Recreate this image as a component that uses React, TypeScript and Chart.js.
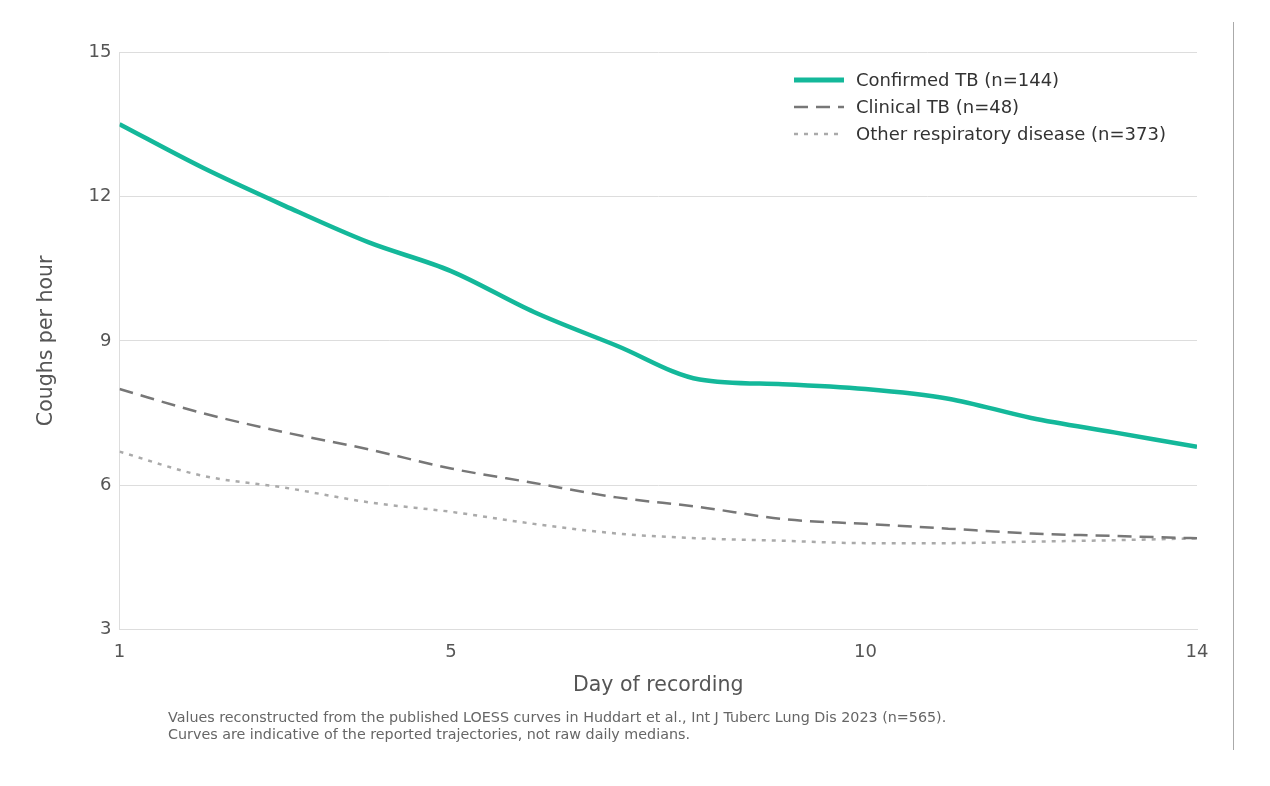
import React, { useEffect, useRef } from "react";
import { Chart, registerables } from "chart.js";
Chart.register(...registerables);

const days = [1, 2, 3, 4, 5, 6, 7, 8, 9, 10, 11, 12, 13, 14];
const confirmedTB = [13.5, 12.6, 11.8, 11.05, 10.45, 9.6, 8.9, 8.2, 8.1, 8.0, 7.8, 7.4, 7.1, 6.8];
const clinicalTB = [8.0, 7.5, 7.1, 6.75, 6.35, 6.05, 5.75, 5.55, 5.3, 5.2, 5.1, 5.0, 4.95, 4.9];
const otherResp = [6.7, 6.2, 5.95, 5.65, 5.45, 5.2, 5.0, 4.9, 4.85, 4.8, 4.8, 4.83, 4.86, 4.9];
const xTicks = [1, 5, 10, 14];
const yTicks = [3, 6, 9, 12, 15];
const labels = ["Confirmed TB (n=144)", "Clinical TB (n=48)", "Other respiratory disease (n=373)"];
const colors = ["#14b89a", "#777777", "#aaaaaa"];
const dashes: number[][] = [[], [14, 8], [4, 6]];
const widths = [4.5, 2.5, 2.5];

const FONT = "'DejaVu Sans', sans-serif";

export default function App() {
  const ref = useRef<HTMLCanvasElement>(null);
  useEffect(() => {
    const series = [confirmedTB, clinicalTB, otherResp];
    const chart = new Chart(ref.current!, {
      type: "line",
      data: {
        datasets: series.map((s, i) => ({
          label: labels[i],
          data: s.map((v, j) => ({ x: days[j], y: v })),
          borderColor: colors[i],
          borderWidth: widths[i],
          borderDash: dashes[i],
          pointRadius: 0,
          tension: 0.4,
          cubicInterpolationMode: "monotone" as const,
          fill: false,
        })),
      },
      options: {
        animation: false,
        responsive: false,
        layout: { padding: { top: 30, right: 36, left: 22, bottom: 12 } },
        plugins: { legend: { display: false }, tooltip: { enabled: false } },
        scales: {
          x: {
            type: "linear",
            min: 1,
            max: 14,
            afterBuildTicks: (ax: any) => { ax.ticks = xTicks.map((v) => ({ value: v })); },
            grid: { display: false },
            border: { display: true, color: "#dddddd" },
            ticks: { color: "#555", font: { family: FONT, size: 18 }, padding: 4 },
            title: { display: true, text: "Day of recording", color: "#555", font: { family: FONT, size: 20.5 }, padding: { top: 6 } },
          },
          y: {
            min: 3,
            max: 15,
            afterBuildTicks: (ax: any) => { ax.ticks = yTicks.map((v) => ({ value: v })); },
            grid: { color: "#dddddd", drawTicks: false },
            border: { display: true, color: "#dddddd" },
            ticks: { color: "#555", font: { family: FONT, size: 18 }, padding: 8 },
            title: { display: true, text: "Coughs per hour", color: "#555", font: { family: FONT, size: 20.5 }, padding: { bottom: 22 } },
          },
        },
      },
    });
    return () => chart.destroy();
  }, []);
  return (
    <div style={{ position: "relative", width: 1225, height: 728, borderRight: "1.5px solid #aaa", marginTop: 14, fontFamily: FONT }}>
      <canvas ref={ref} width={1225} height={692} style={{ position: "absolute", left: 0, top: 0 }} />
      <div style={{ position: "absolute", left: 786, top: 44, fontSize: 18, color: "#333", lineHeight: "27px" }}>
        {labels.map((l, i) => (
          <div key={l} style={{ display: "flex", alignItems: "center" }}>
            <svg width={50} height={10} style={{ marginRight: 12 }}>
              <line x1={0} y1={5} x2={50} y2={5} stroke={colors[i]} strokeWidth={i === 0 ? 5 : 2.5} strokeDasharray={dashes[i].join(" ")} />
            </svg>
            <span>{l}</span>
          </div>
        ))}
      </div>
      <div style={{ position: "absolute", left: 160, top: 687, fontSize: 14.3, color: "#666", lineHeight: "17px" }}>
        Values reconstructed from the published LOESS curves in Huddart et al., Int J Tuberc Lung Dis 2023 (n=565).<br />
        Curves are indicative of the reported trajectories, not raw daily medians.
      </div>
    </div>
  );
}
